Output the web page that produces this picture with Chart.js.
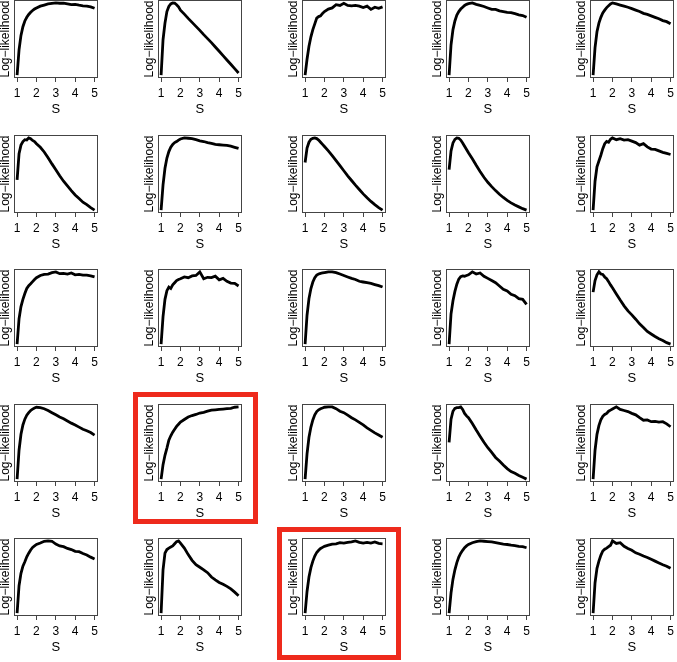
<!DOCTYPE html>
<html>
<head>
<meta charset="utf-8">
<script src="https://cdn.jsdelivr.net/npm/chart.js@4.4.1/dist/chart.umd.min.js"></script>
<style>
  html, body { margin: 0; padding: 0; background: #fff; }
  #grid { position: relative; width: 677px; height: 662px; overflow: hidden; }
  #grid canvas { position: absolute; }
  .mark { position: absolute; box-sizing: border-box; border: 5px solid #ee2a1c; }
</style>
</head>
<body>
<div id="grid"></div>
<script>
// S values on the x axis (shared by every run)
const sValues = [1, 1.1, 1.2, 1.3, 1.4, 1.5, 1.6, 1.7, 1.8, 1.9, 2, 2.2, 2.4, 2.6, 2.8, 3, 3.2, 3.4, 3.6, 3.8, 4, 4.2, 4.4, 4.6, 4.8, 5];
const sTicks = [1, 2, 3, 4, 5];

// log-likelihood per run, rescaled so each curve runs 0..100 (y axis has no ticks)
const ll01 = [0, 35, 55, 67, 75, 80, 84, 87, 89.5, 91.5, 93, 95.5, 97, 98.5, 99.3, 100, 99.5, 99.6, 98.5, 97.5, 97.8, 96.8, 96, 95.5, 94.5, 92.5];
const ll02 = [0, 49, 72, 88, 95, 98.6, 100, 99.7, 97.5, 94.5, 90, 84.5, 78.5, 73, 67.5, 62, 56, 50.5, 45, 39, 33, 27, 21, 15, 9, 3];
const ll03 = [0, 22, 40, 53, 63, 71, 79, 81, 82, 85.5, 88, 91.5, 93, 97.5, 96.5, 99.5, 96.5, 96, 96.5, 95.5, 93.5, 95.5, 91, 94, 92.5, 94.5];
const ll04 = [0, 42, 63, 75, 83, 88, 91.5, 94, 96.5, 98, 99, 100, 98, 96.5, 95, 93, 91, 91, 89, 88, 87, 86.5, 85, 83.5, 82.5, 80];
const ll05 = [0, 38, 60, 72, 80, 86, 90, 93.5, 96, 98.5, 100, 98.5, 97, 95.5, 94, 92, 90, 88, 85.5, 84, 82, 80, 78, 75.5, 74, 71];
const ll06 = [42, 78, 90, 95, 97.5, 97, 100, 99, 96.5, 95, 92, 87, 80.5, 72.5, 64, 56, 47.5, 40, 33.5, 27, 21, 16, 11, 7.5, 3.5, 0];
const ll07 = [0, 35, 58, 72, 81, 87, 91, 93.5, 95, 97, 98.5, 100, 99.5, 99, 97.5, 96, 95, 93.5, 92.5, 91, 90.5, 90, 89.5, 88.5, 87, 85.5];
const ll08 = [66, 86, 94, 98, 99.5, 100, 99, 97, 94, 91, 88, 82, 75.5, 68.5, 61.5, 54.5, 47.5, 41, 34.5, 28.5, 22.5, 17, 12, 7.5, 3.5, 0];
const ll09 = [56, 82, 93, 98, 100, 99.5, 97, 93, 88.5, 84, 79.5, 71, 62, 53.5, 45.5, 38.5, 32.5, 27, 22, 17.5, 13.5, 10, 7, 4.5, 2, 0];
const ll10 = [0, 40, 60, 68, 76, 85, 92, 95, 94, 98, 100, 97.5, 99, 97, 97.5, 95.5, 93.5, 90, 92, 87.5, 84.5, 84, 82, 80, 78.5, 77];
const ll11 = [0, 35, 52, 62, 70, 77, 81, 83.5, 86.5, 89.5, 92, 95, 96.5, 97, 99, 100, 97.5, 98, 97, 98.5, 96, 96.5, 95.5, 95.5, 94.5, 93];
const ll12 = [0, 38, 62, 74, 79, 77, 82, 85, 88, 89.5, 90.5, 93, 92, 94.5, 95, 100, 90.5, 92.5, 92, 94, 89, 91, 87, 84.5, 84, 80.5];
const ll13 = [0, 40, 63, 77, 86, 92, 95.5, 97, 98, 98.5, 99, 100, 100, 99, 97, 95, 93, 91, 89.5, 87, 86, 85, 84, 82.5, 81, 79];
const ll14 = [0, 42, 60, 73, 83, 90, 93.5, 94.5, 94, 95, 96, 100, 97, 98.5, 94, 91, 88, 85, 80.5, 76, 73.5, 69, 67, 63, 62, 55];
const ll15 = [72, 88, 96, 100, 97, 96.5, 93, 90.5, 86.5, 82, 78, 69.5, 61, 53, 46, 40.5, 34.5, 28, 23, 17.5, 14, 10.5, 7.5, 5, 2, 0];
const ll16 = [0, 40, 62, 75, 83, 88.5, 92, 95, 97, 98.5, 99.5, 99, 97.5, 95, 92, 89, 86, 83.5, 80.5, 77.5, 75, 72, 69, 67, 64.5, 61];
const ll17 = [0, 20, 33, 43, 54, 60, 65, 69, 73, 76, 79, 82.5, 86, 88, 89.5, 91.5, 92.5, 94, 95.5, 96, 96.5, 97, 97.5, 98, 99.5, 100];
const ll18 = [0, 35, 58, 72, 82, 89, 93.5, 96, 97.5, 98.5, 99.5, 100, 100, 97.5, 94, 92, 88.5, 85, 82, 78.5, 75, 71, 67.5, 64, 61, 58];
const ll19 = [51, 83, 94, 98, 99, 99, 100, 96.5, 91, 87.5, 85, 77, 68, 59.5, 51, 43.5, 37, 30, 25, 19.5, 14.5, 10.5, 8, 5, 2.5, 0];
const ll20 = [0, 40, 62, 74, 82, 87, 89.5, 91, 94, 95.5, 97, 100, 96.5, 95, 93.5, 91, 89, 85, 81.5, 82, 79.5, 80, 79, 79.5, 76.5, 72.5];
const ll21 = [0, 38, 55, 65, 71, 78, 83, 87.5, 91, 93, 95, 97, 99.5, 100, 99.5, 95.5, 93, 92, 89.5, 88, 85.5, 85, 82.5, 80.5, 77.5, 75];
const ll22 = [0, 60, 83, 88, 90, 91.5, 93, 96, 99, 100, 97, 90, 81, 73, 67, 63.5, 60, 56, 50, 46, 42.5, 40, 37, 33.5, 29, 24];
const ll23 = [0, 30, 50, 63, 72, 79, 84, 87, 89.5, 91, 92.5, 94, 95.5, 96, 97.5, 97, 98, 98.5, 100, 98, 97, 98, 97, 98.5, 96.5, 96];
const ll24 = [0, 28, 47, 60, 70, 77.5, 83, 87, 90.5, 93, 95, 97.5, 99, 100, 99.5, 99, 98.5, 97.5, 96.5, 95.5, 95, 94, 93.5, 92.5, 92, 90.5];
const ll25 = [0, 42, 62, 72, 80, 86, 88.5, 90, 92, 94, 100, 96.5, 97.5, 92.5, 89.5, 87, 83.5, 81.5, 79, 77, 74.5, 72, 69.5, 67, 65, 62];

const runs = [ll01, ll02, ll03, ll04, ll05, ll06, ll07, ll08, ll09, ll10,
              ll11, ll12, ll13, ll14, ll15, ll16, ll17, ll18, ll19, ll20,
              ll21, ll22, ll23, ll24, ll25];

// layout of the 5x5 grid (left / top of each plot box)
const boxLefts = [14, 158, 302, 446, 590];
const boxTops = [0, 135, 269, 404, 538];
const boxW = 85, boxH = 78;
const padL = 14, padT = 2, padR = 3, axisH = 41;

Chart.defaults.font.family = "'Liberation Sans', Arial, Helvetica, sans-serif";
Chart.defaults.font.size = 12;
Chart.defaults.color = '#000';

// R-style box around the plotting region
const boxPlugin = {
    id: 'plotBox',
    afterDraw(chart) {
        const { ctx, chartArea: a } = chart;
        ctx.save();
        ctx.strokeStyle = '#444';
        ctx.lineWidth = 1;
        ctx.strokeRect(Math.round(a.left) + 0.5, Math.round(a.top) + 0.5,
                       Math.round(a.right - a.left) - 1, Math.round(a.bottom - a.top) - 1);
        ctx.restore();
    }
};

const grid = document.getElementById('grid');

runs.forEach((run, i) => {
    const row = Math.floor(i / 5), col = i % 5;
    const canvas = document.createElement('canvas');
    canvas.width = padL + boxW + padR;
    canvas.height = padT + boxH + axisH;
    canvas.style.left = (boxLefts[col] - padL) + 'px';
    canvas.style.top = (boxTops[row] - padT) + 'px';
    grid.appendChild(canvas);

    new Chart(canvas.getContext('2d'), {
        type: 'line',
        data: {
            datasets: [{
                data: sValues.map((s, k) => ({ x: s, y: run[k] })),
                borderColor: '#000',
                borderWidth: 2.8,
                pointRadius: 0,
                tension: 0,
                fill: false
            }]
        },
        options: {
            responsive: false,
            animation: false,
            devicePixelRatio: 1,
            layout: { padding: { top: padT, right: padR, left: 0, bottom: 0 } },
            plugins: { legend: { display: false }, tooltip: { enabled: false } },
            scales: {
                x: {
                    type: 'linear',
                    min: 0.84,
                    max: 5.16,
                    afterBuildTicks: scale => { scale.ticks = sTicks.map(v => ({ value: v })); },
                    afterFit: scale => { scale.height = axisH; },
                    border: { display: false },
                    grid: { drawOnChartArea: false, drawTicks: true, tickLength: 4, color: '#444' },
                    ticks: { padding: 4, maxRotation: 0, autoSkip: false, color: '#000' },
                    title: { display: true, text: 'S', color: '#000', font: { size: 13 }, padding: { top: 0, bottom: 2 } }
                },
                y: {
                    min: -4,
                    max: 104,
                    afterFit: scale => { scale.width = padL; },
                    border: { display: false },
                    grid: { display: false },
                    ticks: { display: false },
                    title: {
                        display: true,
                        text: 'Log\u2212likelihood',
                        color: '#000',
                        font: { size: 12, lineHeight: 1 },
                        padding: { top: 0, bottom: 0 }
                    }
                }
            }
        },
        plugins: [boxPlugin]
    });
});

// red frames around the two highlighted runs
[[133, 392, 125, 132], [277, 527, 124, 133]].forEach(([l, t, w, h]) => {
    const d = document.createElement('div');
    d.className = 'mark';
    d.style.left = l + 'px';
    d.style.top = t + 'px';
    d.style.width = w + 'px';
    d.style.height = h + 'px';
    grid.appendChild(d);
});
</script>
</body>
</html>
